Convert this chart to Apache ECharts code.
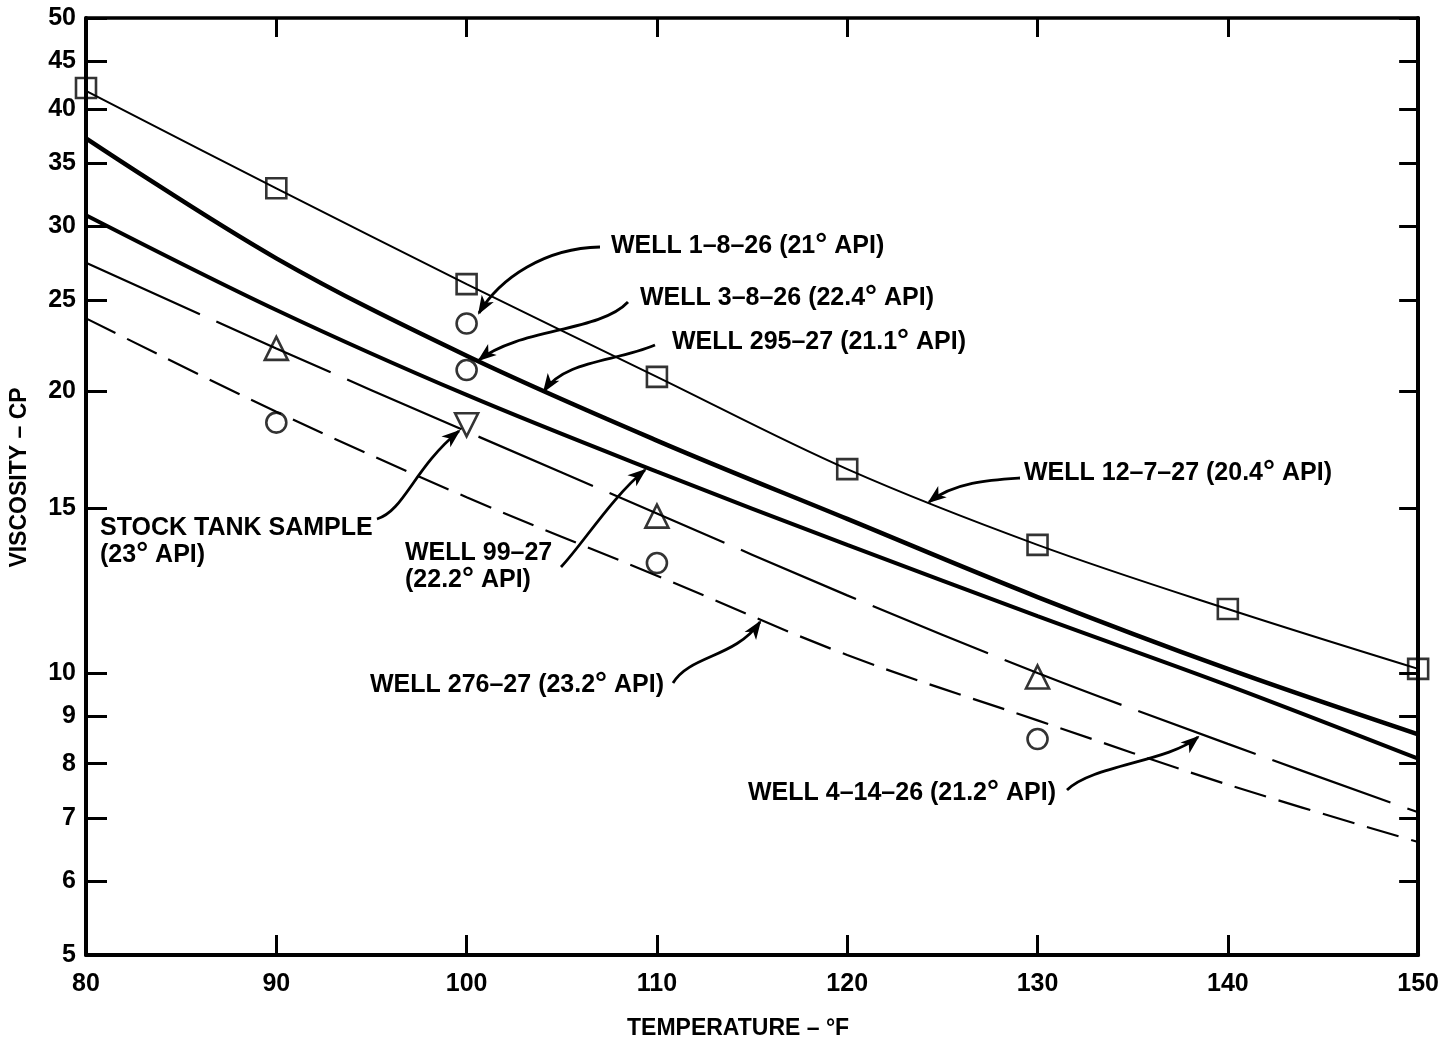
<!DOCTYPE html>
<html><head><meta charset="utf-8">
<script src="https://cdn.jsdelivr.net/npm/echarts@6/dist/echarts.min.js"></script>
<style>html,body{margin:0;padding:0;background:#fff}#c{width:1442px;height:1049px}</style>
</head><body><div id="c"></div>
<script>
// ---- data (temperature °F, viscosity cP) ----
const temperatures = [80, 90, 100, 110, 120, 130, 140, 150];
const well12_7_27 = [41.8, 32.9, 26.0, 20.7, 16.5, 13.7, 11.7, 10.1];
const well295_27  = [37.2, 27.7, 21.8, 17.7, 14.6, 12.05, 10.1, 8.6];
const well99_27   = [30.8, 24.4, 19.8, 16.4, 13.7, 11.5, 9.7, 8.1];
const well4_14_26 = [27.4, 22.2, 18.1, 14.8, 12.1, 10.0, 8.4, 7.1];
const well276_27  = [23.9, 19.0, 15.4, 12.7, 10.45, 8.9, 7.6, 6.6];

const squareTemps = [80, 90, 100, 110, 120, 130, 140, 150];
const squareVisc  = [42.1, 32.9, 26.0, 20.7, 16.5, 13.7, 11.7, 10.1];
const triangleTemps = [90, 110, 130];
const triangleVisc  = [22.2, 14.7, 9.9];
const circleTemps = [90, 110, 130];
const circleVisc  = [18.5, 13.1, 8.5];
const well1_8_26Point = [100, 23.6];
const well3_8_26Point = [100, 21.05];
const stockTankPoint  = [100, 18.4];

const xTicks = [80, 90, 100, 110, 120, 130, 140, 150];
const yTicks = [5, 6, 7, 8, 9, 10, 15, 20, 25, 30, 35, 40, 45, 50];

// ---- helpers ----
const FONT = "'Liberation Sans', Arial, sans-serif";
const lg = Math.log10;
const pts = (xs, vs) => xs.map((x, i) => [x, lg(vs[i])]);
const yTickLog = yTicks.map(lg);

const lineSeries = (name, vals, width, type) => ({
  name, type: 'line', data: pts(temperatures, vals), smooth: 0.35,
  symbol: 'none', silent: true,
  lineStyle: { color: '#000', width, type: type || 'solid', cap: 'butt' }, z: 2
});
const markSeries = (name, xs, vs, symbol, size, rot) => ({
  name, type: 'scatter', data: pts(xs, vs), symbol, symbolSize: size,
  symbolRotate: rot || 0, clip: false, silent: true,
  itemStyle: { color: 'rgba(0,0,0,0)', borderColor: '#000', borderWidth: 2.6 }, z: 3
});

const chart = echarts.init(document.getElementById('c'), null, { renderer: 'canvas' });

// ---- annotations (text + curved arrows, pixel layout) ----
const deg = { d: { fontSize: 30, fontWeight: 'bold', fontFamily: FONT, fill: '#000' } };
const labels = [
  { x: 611, y: 246, t: 'WELL 1–8–26 (21{d|°} API)' },
  { x: 640, y: 298, t: 'WELL 3–8–26 (22.4{d|°} API)' },
  { x: 672, y: 342, t: 'WELL 295–27 (21.1{d|°} API)' },
  { x: 1024, y: 473, t: 'WELL 12–7–27 (20.4{d|°} API)' },
  { x: 405, y: 553, t: 'WELL 99–27' },
  { x: 405, y: 580, t: '(22.2{d|°} API)' },
  { x: 100, y: 528, t: 'STOCK TANK SAMPLE' },
  { x: 100, y: 555, t: '(23{d|°} API)' },
  { x: 370, y: 685, t: 'WELL 276–27 (23.2{d|°} API)' },
  { x: 748, y: 793, t: 'WELL 4–14–26 (21.2{d|°} API)' }
];
const arrows = [
  [[600, 247], [545, 248], [500, 278], [479, 313]],
  [[628, 302], [600, 332], [520, 328], [479, 360]],
  [[655, 345], [615, 362], [565, 360], [544, 391]],
  [[1020, 478], [990, 480], [955, 482], [929, 502]],
  [[561, 567], [582, 545], [612, 497], [645, 470]],
  [[377, 519], [404, 511], [414, 468], [459, 431]],
  [[673, 683], [690, 655], [735, 658], [760, 622]],
  [[1067, 790], [1092, 765], [1168, 762], [1198, 737]]
];
const graphics = [];
labels.forEach(l => graphics.push({
  type: 'text', x: l.x, y: l.y, z: 10,
  style: { text: l.t, fill: '#000', fontSize: 25, fontWeight: 'bold', fontFamily: FONT,
           verticalAlign: 'middle', align: 'left', rich: deg }
}));
arrows.forEach(a => {
  const [s, c1, c2, e] = a;
  graphics.push({
    type: 'bezierCurve', z: 10,
    shape: { x1: s[0], y1: s[1], cpx1: c1[0], cpy1: c1[1], cpx2: c2[0], cpy2: c2[1], x2: e[0], y2: e[1] },
    style: { stroke: '#000', lineWidth: 2.8, fill: null }
  });
  const dx = e[0] - c2[0], dy = e[1] - c2[1], len = Math.hypot(dx, dy);
  const ux = dx / len, uy = dy / len, px = -uy, py = ux;
  const L = 17, W = 7;
  const bx = e[0] - ux * L, by = e[1] - uy * L;
  graphics.push({
    type: 'polygon', z: 11,
    shape: { points: [[e[0] + ux * 2, e[1] + uy * 2], [bx + px * W, by + py * W], [bx + ux * 5, by + uy * 5], [bx - px * W, by - py * W]] },
    style: { fill: '#000' }
  });
});

const axisLabelStyle = { color: '#000', fontSize: 25, fontWeight: 'bold', fontFamily: FONT };

const option = {
  backgroundColor: '#fff',
  animation: false,
  grid: { left: 83, right: 22, top: 18, bottom: 94, containLabel: false },
  xAxis: [
    {
      type: 'value', min: 80, max: 150, interval: 10, position: 'bottom',
      name: 'TEMPERATURE – °F', nameLocation: 'middle', nameGap: 62,
      nameTextStyle: { color: '#000', fontSize: 23, fontWeight: 'bold', fontFamily: FONT, padding: [0, 28, 0, 0] },
      axisLine: { show: true, onZero: false, lineStyle: { color: '#000', width: 4 } },
      axisTick: { show: true, inside: true, length: 20, lineStyle: { color: '#000', width: 3 } },
      axisLabel: Object.assign({ margin: 17, formatter: v => String(v) }, axisLabelStyle),
      splitLine: { show: false }
    },
    {
      type: 'value', min: 80, max: 150, interval: 10, position: 'top',
      axisLine: { show: true, onZero: false, lineStyle: { color: '#000', width: 3.5 } },
      axisTick: { show: true, inside: true, length: 19, lineStyle: { color: '#000', width: 3 } },
      axisLabel: { show: false }, splitLine: { show: false }
    }
  ],
  yAxis: [
    {
      type: 'value', min: lg(5), max: lg(50), position: 'left',
      name: 'VISCOSITY – CP', nameLocation: 'middle', nameGap: 55,
      nameTextStyle: { color: '#000', fontSize: 23, fontWeight: 'bold', fontFamily: FONT, padding: [0, 0, 0, 18] },
      axisLine: { show: true, onZero: false, lineStyle: { color: '#000', width: 4 } },
      axisTick: { show: true, inside: true, length: 21, customValues: yTickLog, lineStyle: { color: '#000', width: 3 } },
      axisLabel: Object.assign({ margin: 10, customValues: yTickLog, hideOverlap: false,
        formatter: v => String(Math.round(Math.pow(10, v))) }, axisLabelStyle),
      splitLine: { show: false }
    },
    {
      type: 'value', min: lg(5), max: lg(50), position: 'right',
      axisLine: { show: true, onZero: false, lineStyle: { color: '#000', width: 4 } },
      axisTick: { show: true, inside: true, length: 19, customValues: yTickLog, lineStyle: { color: '#000', width: 3 } },
      axisLabel: { show: false }, splitLine: { show: false }
    }
  ],
  series: [
    lineSeries('WELL 12–7–27', well12_7_27, 2),
    lineSeries('WELL 295–27', well295_27, 4.5),
    lineSeries('WELL 99–27', well99_27, 4),
    lineSeries('WELL 4–14–26', well4_14_26, 2.2, [125, 18]),
    lineSeries('WELL 276–27', well276_27, 2.2, [33, 13]),
    markSeries('WELL 12–7–27 data', squareTemps, squareVisc, 'rect', 20),
    markSeries('WELL 4–14–26 data', triangleTemps, triangleVisc, 'triangle', 23),
    markSeries('WELL 276–27 data', circleTemps, circleVisc, 'circle', 20),
    markSeries('WELL 1–8–26 data', [well1_8_26Point[0]], [well1_8_26Point[1]], 'circle', 20),
    markSeries('WELL 3–8–26 data', [well3_8_26Point[0]], [well3_8_26Point[1]], 'circle', 20),
    markSeries('STOCK TANK SAMPLE', [stockTankPoint[0]], [stockTankPoint[1]], 'triangle', 23, 180)
  ],
  graphic: graphics
};
chart.setOption(option);
</script>
</body></html>
